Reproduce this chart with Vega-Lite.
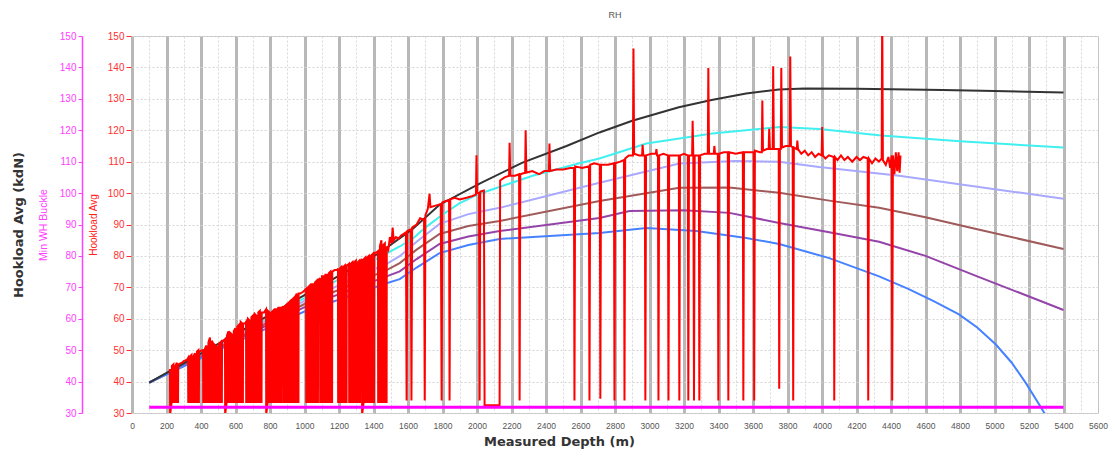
{
  "$schema": "https://vega.github.io/schema/vega-lite/v6.json",
  "width": 966,
  "height": 377,
  "autosize": "none",
  "padding": {"left": 132, "top": 36, "right": 17, "bottom": 43},
  "background": "white",
  "config": {"view": {"stroke": "#c4c4c4", "strokeWidth": 1}, "font": "Liberation Sans"},
  "title": {"text": "RH", "fontSize": 9, "fontWeight": "normal", "color": "#555555", "offset": 11, "font": "Liberation Sans"},
  "datasets": {
    "curves": [
      {"s":"c","d":100,"v":39.7},{"s":"c","d":500,"v":51.6},{"s":"c","d":1000,"v":66.6},{"s":"c","d":1436,"v":79.6},{"s":"c","d":1552,"v":83},{"s":"c","d":1627,"v":85.5},{"s":"c","d":1700,"v":89},{"s":"c","d":1801,"v":93.2},{"s":"c","d":1900,"v":96.8},{"s":"c","d":2015,"v":99.8},{"s":"c","d":2322,"v":105.5},{"s":"c","d":2594,"v":109.5},{"s":"c","d":2710,"v":111},{"s":"c","d":2982,"v":115.8},{"s":"c","d":3364,"v":119},{"s":"c","d":3752,"v":121},{"s":"c","d":3984,"v":120.4},{"s":"c","d":4343,"v":118.3},{"s":"c","d":4800,"v":116.5},{"s":"c","d":5400,"v":114.5},
      {"s":"l","d":100,"v":39.7},{"s":"l","d":500,"v":51.2},{"s":"l","d":1000,"v":65.7},{"s":"l","d":1476,"v":77.5},{"s":"l","d":1552,"v":79.9},{"s":"l","d":1650,"v":84.5},{"s":"l","d":1783,"v":90.2},{"s":"l","d":1950,"v":93.3},{"s":"l","d":2131,"v":95.3},{"s":"l","d":2710,"v":103.3},{"s":"l","d":3173,"v":109.4},{"s":"l","d":3500,"v":110.2},{"s":"l","d":3752,"v":110},{"s":"l","d":3984,"v":108.3},{"s":"l","d":4447,"v":105.5},{"s":"l","d":5400,"v":98.2},
      {"s":"b","d":100,"v":39.7},{"s":"b","d":500,"v":50.8},{"s":"b","d":1000,"v":64.7},{"s":"b","d":1476,"v":75.5},{"s":"b","d":1552,"v":77.7},{"s":"b","d":1650,"v":82},{"s":"b","d":1783,"v":87},{"s":"b","d":1950,"v":89.5},{"s":"b","d":2131,"v":91.1},{"s":"b","d":2710,"v":97.5},{"s":"b","d":3173,"v":101.7},{"s":"b","d":3463,"v":101.8},{"s":"b","d":3752,"v":100.1},{"s":"b","d":4042,"v":97.6},{"s":"b","d":4331,"v":95.3},{"s":"b","d":4600,"v":92.3},{"s":"b","d":4900,"v":88.5},{"s":"b","d":5400,"v":82.2},
      {"s":"p","d":100,"v":39.7},{"s":"p","d":500,"v":50.4},{"s":"p","d":1000,"v":63.7},{"s":"p","d":1476,"v":73.5},{"s":"p","d":1552,"v":75.1},{"s":"p","d":1650,"v":79},{"s":"p","d":1783,"v":83.8},{"s":"p","d":1950,"v":86.2},{"s":"p","d":2131,"v":87.9},{"s":"p","d":2710,"v":92.1},{"s":"p","d":2884,"v":94.3},{"s":"p","d":3200,"v":94.5},{"s":"p","d":3463,"v":93.7},{"s":"p","d":3752,"v":90.5},{"s":"p","d":4042,"v":87.5},{"s":"p","d":4331,"v":84.5},{"s":"p","d":4600,"v":80},{"s":"p","d":4900,"v":73.5},{"s":"p","d":5400,"v":62.8},
      {"s":"u","d":100,"v":39.7},{"s":"u","d":500,"v":50},{"s":"u","d":1000,"v":62.3},{"s":"u","d":1476,"v":71.3},{"s":"u","d":1552,"v":72.6},{"s":"u","d":1650,"v":76.3},{"s":"u","d":1783,"v":80.9},{"s":"u","d":1950,"v":83.5},{"s":"u","d":2131,"v":85.4},{"s":"u","d":2710,"v":87.3},{"s":"u","d":2982,"v":88.9},{"s":"u","d":3272,"v":87.9},{"s":"u","d":3561,"v":85.7},{"s":"u","d":3752,"v":83.8},{"s":"u","d":4042,"v":79.3},{"s":"u","d":4331,"v":73.5},{"s":"u","d":4500,"v":69.5},{"s":"u","d":4650,"v":65.5},{"s":"u","d":4794,"v":61.4},{"s":"u","d":4900,"v":57.2},{"s":"u","d":5008,"v":51.8},{"s":"u","d":5100,"v":46},{"s":"u","d":5182,"v":39.5},{"s":"u","d":5250,"v":33.5},{"s":"u","d":5300,"v":29},
      {"s":"k","d":100,"v":39.7},{"s":"k","d":500,"v":52},{"s":"k","d":1000,"v":67.5},{"s":"k","d":1436,"v":81},{"s":"k","d":1627,"v":88.6},{"s":"k","d":1783,"v":96.3},{"s":"k","d":2015,"v":103},{"s":"k","d":2264,"v":109.7},{"s":"k","d":2519,"v":115},{"s":"k","d":2710,"v":119.3},{"s":"k","d":2900,"v":123},{"s":"k","d":3170,"v":127.3},{"s":"k","d":3360,"v":129.6},{"s":"k","d":3560,"v":131.7},{"s":"k","d":3750,"v":133},{"s":"k","d":3900,"v":133.3},{"s":"k","d":4200,"v":133.2},{"s":"k","d":4700,"v":132.8},{"s":"k","d":5000,"v":132.5},{"s":"k","d":5400,"v":132}
    ],
    "red": [
      {"d":220,"h":44},{"d":221,"h":29.5},{"d":230,"h":33.5},{"d":231,"h":45},{"d":240,"h":45.5},{"d":241,"h":33.5},{"d":250,"h":33.5},{"d":251,"h":45},{"d":260,"h":46},{"d":261,"h":33.5},{"d":267,"h":33.5},{"d":268,"h":45.5},
      {"d":290,"h":46},{"d":300,"h":46.5},{"d":320,"h":47},
      {"d":325,"h":47.5},{"d":326,"h":33.5},{"d":335,"h":33.5},{"d":336,"h":48},{"d":345,"h":48.5},{"d":346,"h":33.5},{"d":355,"h":33.5},{"d":356,"h":48},{"d":365,"h":49},{"d":366,"h":33.5},{"d":375,"h":33.5},{"d":376,"h":49.5},{"d":385,"h":50},{"d":386,"h":33.5},{"d":388,"h":33.5},{"d":389,"h":49.5},
      {"d":400,"h":49.8},
      {"d":412,"h":50},{"d":413,"h":33.5},{"d":422,"h":33.5},{"d":423,"h":50.5},{"d":432,"h":51.5},{"d":433,"h":33.5},{"d":442,"h":33.5},{"d":443,"h":52.5},{"d":452,"h":54},{"d":453,"h":33.5},{"d":462,"h":33.5},{"d":463,"h":53},{"d":472,"h":52},{"d":473,"h":33.5},{"d":482,"h":33.5},{"d":483,"h":51.5},{"d":492,"h":51},{"d":493,"h":33.5},{"d":502,"h":33.5},{"d":503,"h":52},{"d":512,"h":52.5},{"d":513,"h":33.5},{"d":521,"h":33.5},{"d":522,"h":53},
      {"d":530,"h":53},
      {"d":539,"h":53.5},{"d":540,"h":29.5},{"d":549,"h":33.5},{"d":550,"h":54.5},{"d":559,"h":56},{"d":560,"h":33.5},{"d":569,"h":33.5},{"d":570,"h":55.5},{"d":579,"h":55},{"d":580,"h":33.5},{"d":589,"h":33.5},{"d":590,"h":56},{"d":599,"h":57},{"d":600,"h":33.5},{"d":609,"h":33.5},{"d":610,"h":57.5},{"d":619,"h":58},{"d":620,"h":33.5},{"d":629,"h":33.5},{"d":630,"h":59},{"d":639,"h":58.5},{"d":640,"h":33.5},{"d":643,"h":33.5},{"d":644,"h":58.5},
      {"d":655,"h":58.5},
      {"d":661,"h":59},{"d":662,"h":33.5},{"d":671,"h":33.5},{"d":672,"h":60},{"d":681,"h":59.5},{"d":682,"h":33.5},{"d":691,"h":33.5},{"d":692,"h":60.5},{"d":701,"h":61},{"d":702,"h":33.5},{"d":711,"h":33.5},{"d":712,"h":61.5},{"d":721,"h":61},{"d":722,"h":33.5},{"d":731,"h":33.5},{"d":732,"h":62},{"d":741,"h":62.5},{"d":742,"h":33.5},{"d":751,"h":33.5},{"d":752,"h":62},
      {"d":765,"h":62},
      {"d":777,"h":63},{"d":778,"h":29.5},{"d":787,"h":33.5},{"d":788,"h":62.5},{"d":797,"h":62},{"d":798,"h":33.5},{"d":807,"h":33.5},{"d":808,"h":62},{"d":817,"h":62.5},{"d":818,"h":33.5},{"d":827,"h":33.5},{"d":828,"h":63},{"d":837,"h":63},{"d":838,"h":33.5},{"d":847,"h":33.5},{"d":848,"h":63.5},{"d":857,"h":63.5},{"d":858,"h":33.5},{"d":864,"h":33.5},{"d":865,"h":63.5},
      {"d":870,"h":63.5},
      {"d":875,"h":64},{"d":876,"h":33.5},{"d":885,"h":33.5},{"d":886,"h":64},{"d":895,"h":64.5},{"d":896,"h":33.5},{"d":905,"h":33.5},{"d":906,"h":65},{"d":915,"h":65.5},{"d":916,"h":33.5},{"d":925,"h":33.5},{"d":926,"h":66},{"d":935,"h":66.5},{"d":936,"h":33.5},{"d":945,"h":33.5},{"d":946,"h":67},{"d":955,"h":68},{"d":956,"h":33.5},{"d":965,"h":33.5},{"d":966,"h":68},
      {"d":975,"h":68},{"d":990,"h":68.5},{"d":1000,"h":69},
      {"d":1009,"h":69.5},{"d":1010,"h":33.5},{"d":1019,"h":33.5},{"d":1020,"h":70},{"d":1029,"h":70.5},{"d":1030,"h":33.5},{"d":1039,"h":33.5},{"d":1040,"h":71},{"d":1049,"h":71},{"d":1050,"h":33.5},{"d":1059,"h":33.5},{"d":1060,"h":71.5},{"d":1069,"h":72},{"d":1070,"h":33.5},{"d":1078,"h":33.5},{"d":1079,"h":72.5},
      {"d":1085,"h":72.5},
      {"d":1090,"h":73},{"d":1091,"h":33.5},{"d":1100,"h":33.5},{"d":1101,"h":73.5},{"d":1110,"h":73.5},{"d":1111,"h":33.5},{"d":1120,"h":33.5},{"d":1121,"h":74},{"d":1130,"h":74},{"d":1131,"h":33.5},{"d":1140,"h":33.5},{"d":1141,"h":74.5},{"d":1150,"h":75},{"d":1151,"h":33.5},{"d":1160,"h":33.5},{"d":1161,"h":75},
      {"d":1175,"h":75.5},{"d":1190,"h":75.5},
      {"d":1194,"h":76},{"d":1195,"h":33.5},{"d":1204,"h":33.5},{"d":1205,"h":76},{"d":1214,"h":76.5},{"d":1215,"h":33.5},{"d":1224,"h":33.5},{"d":1225,"h":76.5},{"d":1234,"h":77},{"d":1235,"h":33.5},{"d":1244,"h":33.5},{"d":1245,"h":77},
      {"d":1252,"h":77.2},
      {"d":1258,"h":77.5},{"d":1259,"h":33.5},{"d":1268,"h":33.5},{"d":1269,"h":77.5},{"d":1278,"h":78},{"d":1279,"h":33.5},{"d":1288,"h":33.5},{"d":1289,"h":78},{"d":1298,"h":78.5},{"d":1299,"h":33.5},{"d":1308,"h":33.5},{"d":1309,"h":78},{"d":1318,"h":78.5},{"d":1319,"h":33.5},{"d":1322,"h":33.5},{"d":1323,"h":78.5},
      {"d":1328,"h":78.5},
      {"d":1333,"h":79},{"d":1334,"h":29.5},{"d":1343,"h":33.5},{"d":1344,"h":79},{"d":1353,"h":79.5},{"d":1354,"h":33.5},{"d":1363,"h":33.5},{"d":1364,"h":79.5},{"d":1373,"h":80},{"d":1374,"h":33.5},{"d":1383,"h":33.5},{"d":1384,"h":80},{"d":1393,"h":80.5},{"d":1394,"h":33.5},{"d":1403,"h":33.5},{"d":1404,"h":81},
      {"d":1415,"h":81},
      {"d":1426,"h":81.5},{"d":1427,"h":33.5},{"d":1436,"h":33.5},{"d":1437,"h":83},{"d":1446,"h":85},{"d":1447,"h":33.5},{"d":1456,"h":33.5},{"d":1457,"h":83.5},{"d":1466,"h":84},{"d":1467,"h":33.5},{"d":1476,"h":33.5},{"d":1477,"h":83},
      {"d":1486,"h":82},{"d":1495,"h":86},{"d":1505,"h":84},{"d":1511,"h":89},{"d":1517,"h":85},{"d":1530,"h":86},{"d":1545,"h":85.5},{"d":1560,"h":86.5},{"d":1575,"h":87},{"d":1588,"h":87.5},
      {"d":1592,"h":34},{"d":1596,"h":88},{"d":1616,"h":88.5},{"d":1620,"h":34},{"d":1624,"h":89},{"d":1650,"h":90},{"d":1670,"h":92},{"d":1693,"h":91.5},{"d":1697,"h":34},{"d":1701,"h":93},{"d":1715,"h":95},{"d":1725,"h":99.8},{"d":1730,"h":95.5},{"d":1760,"h":96},{"d":1790,"h":96.5},
      {"d":1795,"h":34},{"d":1799,"h":97},{"d":1820,"h":97.5},{"d":1838,"h":97.8},{"d":1841,"h":34},{"d":1845,"h":98},{"d":1870,"h":98.5},{"d":1900,"h":98},{"d":1940,"h":98.5},{"d":1970,"h":99},{"d":1994,"h":99.5},{"d":1997,"h":112},{"d":2000,"h":100},{"d":2012,"h":100},
      {"d":2015,"h":34},{"d":2019,"h":100.5},{"d":2040,"h":100.8},{"d":2044,"h":32.5},{"d":2131,"h":32.5},{"d":2134,"h":104},{"d":2160,"h":105},{"d":2186,"h":105.5},{"d":2189,"h":116},{"d":2193,"h":105.5},{"d":2220,"h":105.5},{"d":2244,"h":106},
      {"d":2247,"h":34},{"d":2251,"h":106},{"d":2279,"h":106.5},{"d":2282,"h":120},{"d":2286,"h":106.5},{"d":2320,"h":107},{"d":2360,"h":106},{"d":2390,"h":107},{"d":2417,"h":107},{"d":2420,"h":115.8},{"d":2424,"h":107},{"d":2460,"h":107.5},{"d":2500,"h":107.5},{"d":2540,"h":108},{"d":2562,"h":108},
      {"d":2565,"h":34},{"d":2569,"h":108.5},{"d":2610,"h":108},{"d":2649,"h":108.5},{"d":2652,"h":34},{"d":2656,"h":109},{"d":2680,"h":109.5},{"d":2712,"h":109},{"d":2715,"h":34.5},{"d":2719,"h":109},{"d":2760,"h":109},{"d":2794,"h":109.5},
      {"d":2797,"h":34},{"d":2801,"h":109.5},{"d":2830,"h":110},{"d":2852,"h":110.5},{"d":2855,"h":34},{"d":2859,"h":111},{"d":2880,"h":112},{"d":2904,"h":112},{"d":2907,"h":146},{"d":2911,"h":112.5},{"d":2940,"h":112},{"d":2957,"h":112},{"d":2960,"h":115.4},{"d":2964,"h":112},{"d":2973,"h":112},
      {"d":2976,"h":34},{"d":2980,"h":112},{"d":3010,"h":112.5},{"d":3037,"h":112.5},{"d":3040,"h":114},{"d":3044,"h":112},{"d":3049,"h":112},{"d":3052,"h":34},{"d":3056,"h":112},{"d":3080,"h":112.5},{"d":3107,"h":112},{"d":3110,"h":34},{"d":3114,"h":112},{"d":3140,"h":112},{"d":3170,"h":112},
      {"d":3173,"h":34},{"d":3177,"h":112},{"d":3200,"h":112.5},{"d":3222,"h":112},{"d":3225,"h":34},{"d":3229,"h":112},{"d":3247,"h":112},{"d":3250,"h":123},{"d":3254,"h":112},{"d":3258,"h":34},{"d":3262,"h":112},{"d":3286,"h":112},{"d":3289,"h":34},{"d":3293,"h":112},
      {"d":3320,"h":112.5},{"d":3338,"h":112.5},{"d":3341,"h":139.8},{"d":3345,"h":112.5},{"d":3373,"h":112.5},{"d":3376,"h":115},{"d":3380,"h":112.5},{"d":3396,"h":112.5},{"d":3399,"h":34},{"d":3403,"h":112.5},{"d":3430,"h":113},{"d":3454,"h":113},{"d":3457,"h":34},{"d":3461,"h":113},
      {"d":3500,"h":112.5},{"d":3541,"h":113},{"d":3544,"h":34},{"d":3548,"h":113},{"d":3580,"h":113},{"d":3604,"h":113},{"d":3607,"h":34},{"d":3611,"h":113.5},{"d":3640,"h":113},{"d":3651,"h":113},{"d":3654,"h":129.5},{"d":3658,"h":113.5},{"d":3680,"h":114},{"d":3691,"h":114},{"d":3694,"h":120.5},{"d":3698,"h":114},
      {"d":3714,"h":114},{"d":3717,"h":140.4},{"d":3721,"h":114},{"d":3749,"h":114},{"d":3752,"h":37.7},{"d":3756,"h":114},{"d":3761,"h":114},{"d":3764,"h":139.8},{"d":3768,"h":114.5},{"d":3790,"h":115},{"d":3813,"h":115},{"d":3816,"h":143.5},{"d":3820,"h":115},{"d":3830,"h":114.5},
      {"d":3833,"h":34},{"d":3837,"h":114.5},{"d":3854,"h":114},{"d":3857,"h":116.7},{"d":3861,"h":114},{"d":3880,"h":112.5},{"d":3900,"h":113.5},{"d":3920,"h":112},{"d":3940,"h":113},{"d":3960,"h":111.5},{"d":3980,"h":112.5},{"d":3998,"h":112},{"d":4001,"h":121},{"d":4005,"h":112},
      {"d":4020,"h":111},{"d":4040,"h":112},{"d":4068,"h":111.5},{"d":4071,"h":34},{"d":4075,"h":111.5},{"d":4090,"h":110.5},{"d":4110,"h":112},{"d":4130,"h":110.5},{"d":4150,"h":111.5},{"d":4175,"h":110},{"d":4200,"h":111.5},{"d":4220,"h":110.5},{"d":4240,"h":111.5},{"d":4265,"h":111},
      {"d":4268,"h":34},{"d":4272,"h":111},{"d":4290,"h":109.5},{"d":4310,"h":111},{"d":4330,"h":110},{"d":4346,"h":111},{"d":4349,"h":160},{"d":4353,"h":110.5},{"d":4370,"h":109},{"d":4385,"h":111.5},{"d":4395,"h":108},{"d":4404,"h":112},
      {"d":4407,"h":34},{"d":4411,"h":112},{"d":4420,"h":106},{"d":4428,"h":113},{"d":4436,"h":107},{"d":4444,"h":113},{"d":4450,"h":106.5},{"d":4455,"h":112}
    ],
    "buckle": [{"d":100,"m":31.8},{"d":5400,"m":31.8}]
  },
  "layer": [
    {
      "data": {"name": "curves"},
      "mark": {"type": "line", "strokeWidth": 2, "clip": true},
      "encoding": {
        "x": {
          "field": "d", "type": "quantitative",
          "scale": {"domain": [0, 5600], "nice": false, "zero": false},
          "axis": {
            "orient": "bottom",
            "title": "Measured Depth (m)", "titleFont": "DejaVu Sans", "titleFontSize": 13, "titleFontWeight": "bold", "titleColor": "#333333", "titlePadding": 6, "titleX": 427,
            "values": [0,200,400,600,800,1000,1200,1400,1600,1800,2000,2200,2400,2600,2800,3000,3200,3400,3600,3800,4000,4200,4400,4600,4800,5000,5200,5400],
            "format": "d", "labelFontSize": 8.5, "labelColor": "#555555", "labelPadding": 8, "labelFlush": false, "labelOverlap": false,
            "ticks": false, "domain": false, "grid": true, "gridColor": "#b8b8b8", "gridWidth": 3
          }
        },
        "y": {
          "field": "v", "type": "quantitative",
          "scale": {"domain": [30, 150], "nice": false, "zero": false},
          "axis": {"orient": "left", "title": "Hookload Avg (kdN)", "titleFont": "DejaVu Sans", "titleFontSize": 13, "titleFontWeight": "bold", "titleColor": "#333333", "labels": false, "ticks": false, "domain": false, "grid": false, "titlePadding": 107}
        },
        "color": {
          "field": "s", "type": "nominal", "legend": null,
          "scale": {"domain": ["k", "c", "l", "b", "p", "u"], "range": ["#333333", "#40f0f0", "#a8a8ff", "#a05a5a", "#9444a8", "#4682ff"]}
        }
      }
    },
    {
      "data": {"name": "red"},
      "mark": {"type": "line", "color": "#ff0000", "strokeWidth": 2, "clip": true},
      "encoding": {
        "x": {
          "field": "d", "type": "quantitative",
          "scale": {"domain": [0, 5600], "nice": false, "zero": false},
          "axis": {
            "orient": "bottom",
            "title": null, "labels": false, "ticks": false, "domain": false,
            "values": [100,300,500,700,900,1100,1300,1500,1700,1900,2100,2300,2500,2700,2900,3100,3300,3500,3700,3900,4100,4300,4500,4700,4900,5100,5300,5500],
            "grid": true, "gridColor": "#d8d8d8", "gridWidth": 1, "gridDash": [2, 2]
          }
        },
        "y": {
          "field": "h", "type": "quantitative",
          "scale": {"domain": [30, 150], "nice": false, "zero": false},
          "axis": {
            "orient": "left", "offset": 1, "title": "Hookload Avg", "titleColor": "#ff2020", "titleFontSize": 10, "titleFontWeight": "normal", "titleFont": "Liberation Sans", "titlePadding": 9,
            "values": [30,40,50,60,70,80,90,100,110,120,130,140,150],
            "labelColor": "#ff3030", "labelFontSize": 10, "labelPadding": 2, "labelFlush": false, "labelOverlap": false,
            "tickColor": "#ff3030", "tickSize": 5, "domain": false,
            "grid": true, "gridColor": "#d4d4d4", "gridDash": [2, 2], "gridWidth": 1
          }
        }
      }
    },
    {
      "data": {"name": "buckle"},
      "mark": {"type": "line", "color": "#ff00ff", "strokeWidth": 3, "clip": true},
      "encoding": {
        "x": {
          "field": "d", "type": "quantitative",
          "scale": {"domain": [0, 5600], "nice": false, "zero": false},
          "axis": {"orient": "bottom", "title": null, "values": [5600], "format": "d", "labelFontSize": 8.5, "labelColor": "#555555", "labelPadding": 8, "labelFlush": false, "labelOverlap": false, "ticks": false, "domain": false, "grid": false}
        },
        "y": {
          "field": "m", "type": "quantitative",
          "scale": {"domain": [30, 150], "nice": false, "zero": false},
          "axis": {
            "orient": "left", "offset": 50, "title": "Min WH Buckle", "titleColor": "#ff40ff", "titleFontSize": 10.5, "titleFontWeight": "normal", "titleFont": "Liberation Sans", "titlePadding": 11,
            "values": [30,40,50,60,70,80,90,100,110,120,130,140,150],
            "labelColor": "#ff40ff", "labelFontSize": 10, "labelPadding": 2, "labelFlush": false, "labelOverlap": false,
            "tickColor": "#ff40ff", "tickSize": 4, "domain": true, "domainColor": "#ff40ff", "domainWidth": 1.5,
            "grid": false
          }
        }
      }
    }
  ],
  "resolve": {"scale": {"y": "independent"}, "axis": {"y": "independent", "x": "independent"}}
}
